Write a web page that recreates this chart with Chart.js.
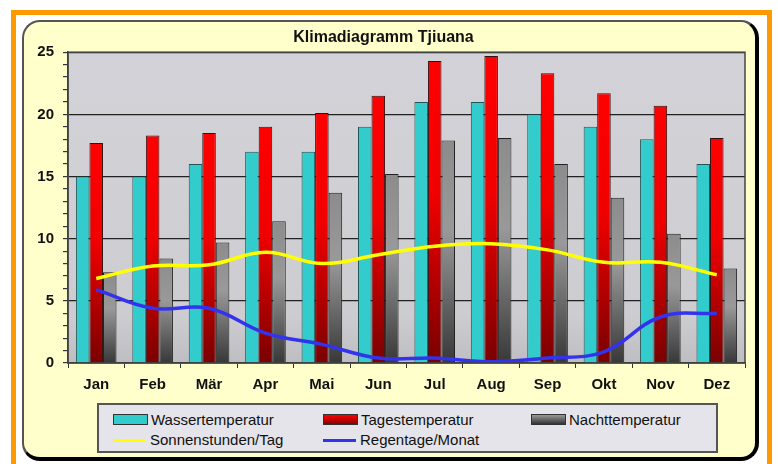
<!DOCTYPE html>
<html>
<head>
<meta charset="utf-8">
<script src="https://cdn.jsdelivr.net/npm/chart.js@4.4.1/dist/chart.umd.min.js"></script>
<style>
  body { margin: 0; background: #fff; width: 778px; height: 464px; overflow: hidden; position: relative; }
  .frame { position: absolute; left: 11px; top: 10px; width: 761px; height: 470px; border: 5px solid #FF9900; border-bottom: none; box-sizing: border-box; }
  .panel { position: absolute; left: 22px; top: 20px; width: 737px; height: 441px; box-sizing: border-box; background: #FFFFCC;
           border: 2px solid #555; border-right: 4px solid #000; border-bottom: 4px solid #000; border-radius: 18px; }
  #myChart { position: absolute; left: 0; top: 0; }
  .legend { position: absolute; left: 97px; top: 403px; width: 621px; height: 50px; box-sizing: border-box; background: #E4E4EA;
            border: 2px solid #555; font-family: 'Liberation Sans Narrow', 'Arial Narrow', sans-serif; font-size: 15px; color: #111; }
  .item { position: absolute; height: 18px; line-height: 18px; white-space: nowrap; }
  .icon { display: inline-block; width: 33px; height: 9px; border: 1px solid #333; vertical-align: middle; margin-right: 3px; margin-top: -3px; }
  .line { display: inline-block; width: 33px; height: 3px; vertical-align: middle; margin-right: 4px; margin-top: -2px; }
</style>
</head>
<body>
<div class="frame"></div>
<div class="panel"></div>
<canvas id="myChart" width="778" height="464"></canvas>
<div class="legend" id="legend"></div>
<script>
const months = ["Jan", "Feb", "Mär", "Apr", "Mai", "Jun", "Jul", "Aug", "Sep", "Okt", "Nov", "Dez"];
const wasser = [15, 15, 16, 17, 17, 19, 21, 21, 20, 19, 18, 16];
const tages = [17.7, 18.3, 18.5, 19.0, 20.1, 21.5, 24.3, 24.7, 23.3, 21.7, 20.7, 18.1];
const nacht = [7.3, 8.4, 9.7, 11.4, 13.7, 15.2, 17.9, 18.1, 16.0, 13.3, 10.4, 7.6];
const sonne = [6.8, 7.8, 7.9, 8.9, 8.0, 8.7, 9.4, 9.6, 9.1, 8.1, 8.1, 7.1];
const regen = [5.9, 4.4, 4.4, 2.4, 1.5, 0.4, 0.4, 0.1, 0.4, 0.9, 3.7, 4.0];
const yTicks = [0, 5, 10, 15, 20, 25];

const narrow = "'Liberation Sans Narrow', 'Arial Narrow', sans-serif";

// gradient for each bar, from its top down to the axis
function barGradient(ctx, stops, fallback) {
  const chart = ctx.chart;
  if (!chart.chartArea || ctx.raw === undefined) return fallback;
  const y = chart.scales.y;
  const top = y.getPixelForValue(ctx.raw);
  const bottom = y.getPixelForValue(0);
  if (!(bottom > top)) return fallback;
  const g = chart.ctx.createLinearGradient(0, top, 0, bottom);
  stops.forEach(s => g.addColorStop(s[0], s[1]));
  return g;
}

const plotBg = {
  id: 'plotBg',
  beforeDraw(chart) {
    const a = chart.chartArea;
    const c = chart.ctx;
    const g = c.createLinearGradient(0, a.top, 0, a.bottom);
    g.addColorStop(0, '#D2D2D8');
    g.addColorStop(0.85, '#CDCDD1');
    g.addColorStop(1, '#BEBEC2');
    c.save();
    c.fillStyle = g;
    c.fillRect(a.left, a.top, a.right - a.left, a.bottom - a.top);
    c.restore();
  },
  afterDatasetsDraw(chart) {
    const a = chart.chartArea;
    const c = chart.ctx;
    c.save();
    c.strokeStyle = '#444';
    c.lineWidth = 1.5;
    c.strokeRect(a.left, a.top, a.right - a.left, a.bottom - a.top);
    c.restore();
  }
};

const ctx = document.getElementById('myChart').getContext('2d');
const myChart = new Chart(ctx, {
  data: {
    labels: months,
    datasets: [
      {
        type: 'line',
        label: 'Sonnenstunden/Tag',
        data: sonne,
        borderColor: '#FFFF00',
        backgroundColor: '#FFFF00',
        borderWidth: 3.5,
        pointRadius: 0,
        tension: 0.4,
        order: 0
      },
      {
        type: 'line',
        label: 'Regentage/Monat',
        data: regen,
        borderColor: '#3333EE',
        backgroundColor: '#3333EE',
        borderWidth: 3.5,
        pointRadius: 0,
        tension: 0.4,
        order: 0
      },
      {
        type: 'bar',
        label: 'Wassertemperatur',
        data: wasser,
        backgroundColor: '#33CCCC',
        borderColor: '#225555',
        borderWidth: 1,
        order: 1
      },
      {
        type: 'bar',
        label: 'Tagestemperatur',
        data: tages,
        backgroundColor: c => barGradient(c, [[0, '#FF0000'], [0.45, '#F00000'], [1, '#7A0000']], '#EE0000'),
        borderColor: '#331111',
        borderWidth: 1,
        order: 1
      },
      {
        type: 'bar',
        label: 'Nachttemperatur',
        data: nacht,
        backgroundColor: c => barGradient(c, [[0, '#8C8C8C'], [0.4, '#999999'], [1, '#383838']], '#777777'),
        borderColor: '#222222',
        borderWidth: 1,
        order: 1
      }
    ]
  },
  options: {
    responsive: false,
    animation: false,
    layout: { padding: { left: 22, right: 33, top: 20, bottom: 71 } },
    datasets: { bar: { categoryPercentage: 0.72, barPercentage: 1 } },
    plugins: {
      legend: { display: false },
      tooltip: { enabled: false },
      title: {
        display: true,
        text: 'Klimadiagramm Tjiuana',
        color: '#111',
        font: { family: narrow, size: 16, weight: 'bold' },
        padding: { top: 8, bottom: 5 }
      }
    },
    scales: {
      x: {
        grid: { offset: true, drawOnChartArea: false, color: '#333', tickLength: 5 },
        border: { color: '#333', width: 1.5 },
        ticks: { color: '#111', padding: 8, font: { family: narrow, size: 15, weight: 'bold' } },
        afterFit: s => { s.height = 30; }
      },
      y: {
        min: 0,
        max: 25,
        grid: {
          color: c => (c.tick && c.tick.value % 5 === 0 && c.tick.value > 0) ? '#222' : 'rgba(0,0,0,0)',
          lineWidth: 1.2,
          tickColor: '#333',
          tickLength: 5
        },
        border: { color: '#333', width: 1.5 },
        ticks: {
          stepSize: 1,
          autoSkip: false,
          color: '#111',
          padding: 9,
          font: { family: narrow, size: 15, weight: 'bold' },
          callback: v => yTicks.includes(v) ? String(v) : ''
        },
        afterFit: s => { s.width = 46; }
      }
    }
  },
  plugins: [plotBg]
});

// legend built from the chart's own datasets
const pos = {
  'Wassertemperatur': [14, 6], 'Tagestemperatur': [224, 6], 'Nachttemperatur': [432, 6],
  'Sonnenstunden/Tag': [14, 26], 'Regentage/Monat': [224, 26]
};
const legendEl = document.getElementById('legend');
myChart.data.datasets.forEach(ds => {
  const p = pos[ds.label];
  const item = document.createElement('div');
  item.className = 'item';
  item.style.left = p[0] + 'px';
  item.style.top = p[1] + 'px';
  const sw = document.createElement('span');
  if (ds.type === 'line') {
    sw.className = 'line';
    sw.style.background = ds.borderColor;
  } else {
    sw.className = 'icon';
    if (ds.label === 'Wassertemperatur') sw.style.background = '#33CCCC';
    if (ds.label === 'Tagestemperatur') sw.style.background = 'linear-gradient(#FF0000, #8A0000)';
    if (ds.label === 'Nachttemperatur') sw.style.background = 'linear-gradient(#999, #333)';
  }
  item.appendChild(sw);
  item.appendChild(document.createTextNode(ds.label));
  legendEl.appendChild(item);
});
</script>
</body>
</html>
